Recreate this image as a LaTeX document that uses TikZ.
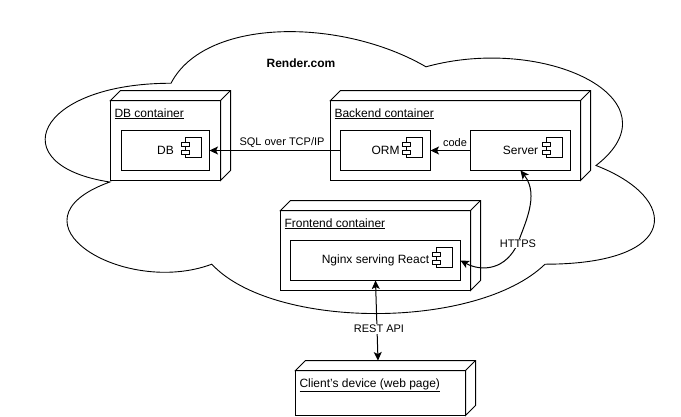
\documentclass[tikz,border=0pt]{standalone}
\usepackage{fontspec}
\setmainfont{Liberation Sans}
\usetikzlibrary{arrows.meta}

\tikzset{
    >={Stealth[length=8.5pt,width=8pt,inset=2pt]},
    outerbox/.style={draw,fill=white,inner sep=0,outer sep=0,minimum height=80pt},
    innerbox/.style={draw,fill=white,inner sep=0,outer sep=0,minimum height=40pt,font=\fontsize{12}{14}\selectfont},
    boxlabel/.style={anchor=base west,inner sep=0,font=\fontsize{12}{14}\selectfont},
    linklabel/.style={inner sep=1pt,font=\fontsize{11}{13}\selectfont},
}

\begin{document}
\begin{tikzpicture}[x=1pt,y=-1pt,line width=1pt]
        \useasboundingbox (0,0) rectangle (681,416);
        % cloud
        \draw[fill=white,line width=0.9pt] (171,83.25)
            .. controls (35,83.25) and (1,165.5) .. (109.8,182)
            .. controls (1,221.4) and (123.4,297.1) .. (211.8,264.2)
            .. controls (273,330) and (477,330) .. (545,264.2)
            .. controls (681,264.2) and (681,198.4) .. (596,165.5)
            .. controls (681,99.7) and (545,33.9) .. (426,66.8)
            .. controls (341,17.45) and (205,17.45) .. cycle;
        \node[font=\bfseries\fontsize{12}{14}\selectfont] (render) at (301,63.5) {Render.com};

        % containers
        \node[outerbox,minimum width=110pt] (dbbox) at (165.5,140.5) {};
        \node[outerbox,minimum width=250pt] (backend) at (455.5,140.5) {};
        \node[outerbox,minimum width=190pt] (frontend) at (375.5,250.5) {};
        \node[outerbox,minimum width=170pt,minimum height=45pt] (client) at (380.5,393) {};
        \foreach \n in {dbbox,backend,frontend,client} {
            \draw[fill=white] (\n.north west) -- ([shift={(10,-10)}]\n.north west)
                -- ([shift={(10,-10)}]\n.north east) -- ([shift={(10,-10)}]\n.south east)
                -- (\n.south east) -- (\n.north east) -- cycle;
            \draw (\n.north east) -- ([shift={(10,-10)}]\n.north east);
        }
        \node[boxlabel] (dblabel) at ([shift={(3.5,16.5)}]dbbox.north west) {\underline{DB container}};
        \node[boxlabel] (backendlabel) at ([shift={(3.5,16.5)}]backend.north west) {\underline{Backend container}};
        \node[boxlabel] (frontendlabel) at ([shift={(3.5,16.5)}]frontend.north west) {\underline{Frontend container}};
        \node[boxlabel] (clientlabel) at ([shift={(3.5,16.5)}]client.north west) {\underline{Client's device (web page)}};

        % components
        \node[innerbox,minimum width=88pt] (db) at (165.5,150.5) {DB};
        \node[innerbox,minimum width=90pt] (orm) at (385.5,150.5) {ORM};
        \node[innerbox,minimum width=100pt] (server) at (520.5,150.5) {Server};
        \node[innerbox,minimum width=170pt] (nginx) at (375.5,260.5) {Nginx serving React};
        \foreach \n in {db,orm,server,nginx} {
            \draw ([shift={(-24,-13)}]\n.east) rectangle ([shift={(-8,7)}]\n.east);
            \draw[fill=white] ([shift={(-28,-8.5)}]\n.east) rectangle ([shift={(-20,-4.5)}]\n.east);
            \draw[fill=white] ([shift={(-28,-0.5)}]\n.east) rectangle ([shift={(-20,3.5)}]\n.east);
        }

        % links
        \coordinate (clienttop) at (378,360.5);
        \draw[->] (orm.west) -- (db.east);
        \draw[->] (server.west) -- (orm.east);
        \draw[<->] (nginx.south) -- (clienttop);
        \draw[<->] (nginx.east) .. controls (482,272) and (506,270) .. (518,243)
            .. controls (524,225) and (540,195) .. (server.south);
        \node[linklabel] (sql) at (282,142.5) {SQL over TCP/IP};
        \node[linklabel] (code) at (455,142.5) {code};
        \node[linklabel,fill=white] (https) at (518,243.5) {HTTPS};
        \node[linklabel,fill=white] (rest) at (379,329) {REST API};
    \end{tikzpicture}
\end{document}
